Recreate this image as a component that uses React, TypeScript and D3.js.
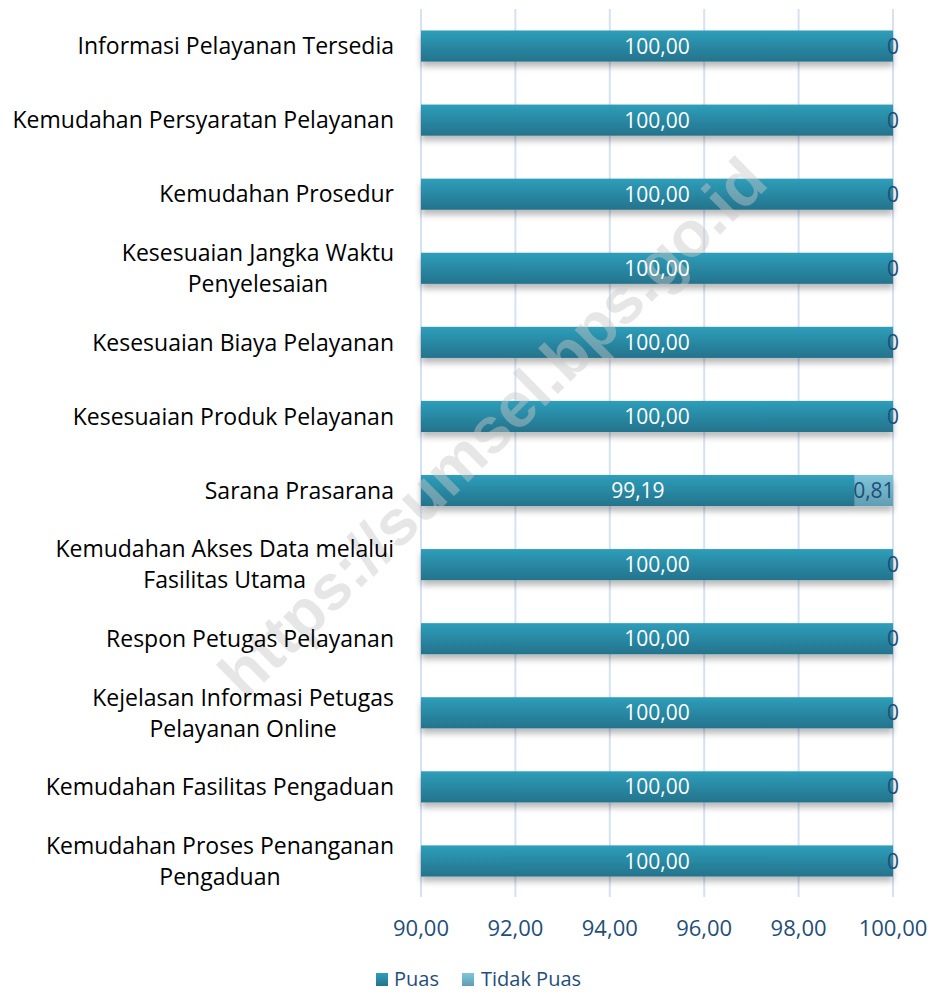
import React from "react";
import * as d3 from "d3";

const categories: string[][] = [
  ["Informasi Pelayanan Tersedia"],
  ["Kemudahan Persyaratan Pelayanan"],
  ["Kemudahan Prosedur"],
  ["Kesesuaian Jangka Waktu", "Penyelesaian"],
  ["Kesesuaian Biaya Pelayanan"],
  ["Kesesuaian Produk Pelayanan"],
  ["Sarana Prasarana"],
  ["Kemudahan Akses Data melalui", "Fasilitas Utama"],
  ["Respon Petugas Pelayanan"],
  ["Kejelasan Informasi Petugas", "Pelayanan Online"],
  ["Kemudahan Fasilitas Pengaduan"],
  ["Kemudahan Proses Penanganan", "Pengaduan"],
];
const puas: number[] = [100, 100, 100, 100, 100, 100, 99.19, 100, 100, 100, 100, 100];
const tidakPuas: number[] = [0, 0, 0, 0, 0, 0, 0.81, 0, 0, 0, 0, 0];
const xTicks: number[] = [90, 92, 94, 96, 98, 100];
const seriesNames: string[] = ["Puas", "Tidak Puas"];

const W = 929;
const H = 992;
const FONT = "'Open Sans', Lato, sans-serif";

const fmt2 = (v: number) => v.toFixed(2).replace(".", ",");
const fmtTp = (v: number) => (v === 0 ? "0" : fmt2(v));

export default function App() {
  const x = d3.scaleLinear().domain([90, 100]).range([421, 893]);
  const y = d3
    .scaleBand<number>()
    .domain(d3.range(categories.length))
    .range([9, 898])
    .paddingInner(0.58)
    .paddingOuter(0.29);
  const bh = y.bandwidth();
  const navy = "#1F4E79";

  return (
    <svg
      width={W}
      height={H}
      style={{ position: "absolute", left: 0, top: 0, background: "#fff" }}
    >
      <defs>
        <linearGradient id="gPuas" x1="0" y1="0" x2="0" y2="1">
          <stop offset="0" stopColor="#2E9EBA" />
          <stop offset="1" stopColor="#24738C" />
        </linearGradient>
        <linearGradient id="gTidak" x1="0" y1="0" x2="0" y2="1">
          <stop offset="0" stopColor="#80C6DB" />
          <stop offset="1" stopColor="#5F9DB2" />
        </linearGradient>
        <filter id="shadow" x="-5%" y="-30%" width="110%" height="180%">
          <feDropShadow dx="0" dy="5" stdDeviation="3" floodColor="#000" floodOpacity="0.28" />
        </filter>
      </defs>

      {/* gridlines */}
      {xTicks.map((t) => (
        <line
          key={"g" + t}
          x1={x(t)}
          x2={x(t)}
          y1={9}
          y2={897}
          stroke="#D6E1F2"
          strokeWidth={2}
        />
      ))}

      {/* bars */}
      {categories.map((c, i) => {
        const y0 = y(i)!;
        const xp = x(90);
        const xe = x(puas[i]);
        const xt = x(puas[i] + tidakPuas[i]);
        return (
          <g key={"b" + i} filter="url(#shadow)">
            <rect x={xp} y={y0} width={xe - xp} height={bh} fill="url(#gPuas)" />
            {tidakPuas[i] > 0 && (
              <rect x={xe} y={y0} width={xt - xe} height={bh} fill="url(#gTidak)" />
            )}
          </g>
        );
      })}

      {/* watermark */}
      <text
        x={496}
        y={431}
        transform="rotate(-44.5 496 431)"
        textAnchor="middle"
        dominantBaseline="middle"
        fontFamily="'Liberation Sans', Arial, sans-serif"
        fontWeight="bold"
        fontSize={64}
        fill="#C8C8C8"
        fillOpacity={0.45}
      >
        https://sumsel.bps.go.id
      </text>

      {/* labels on bars */}
      {categories.map((c, i) => {
        const yc = y(i)! + bh / 2;
        const xp = x(90);
        const xe = x(puas[i]);
        const xt = x(puas[i] + tidakPuas[i]);
        return (
          <g key={"l" + i} fontFamily={FONT} fontSize={21}>
            <text x={(xp + xe) / 2} y={yc} dy="0.36em" textAnchor="middle" fill="#fff">
              {fmt2(puas[i])}
            </text>
            <text x={(xe + xt) / 2} y={yc} dy="0.36em" textAnchor="middle" fill={navy}>
              {fmtTp(tidakPuas[i])}
            </text>
          </g>
        );
      })}

      {/* category labels */}
      {categories.map((c, i) => {
        const yc = y(i)! + bh / 2;
        const lh = 31;
        const n = c.length;
        return (
          <g key={"c" + i} fontFamily={FONT} fontSize={23} fill="#000">
            {n === 1 ? (
              <text x={394} y={yc} dy="0.36em" textAnchor="end">
                {c[0]}
              </text>
            ) : (
              <CenteredBlock lines={c} right={394} yc={yc} lh={lh} />
            )}
          </g>
        );
      })}

      {/* x axis tick labels */}
      {xTicks.map((t) => (
        <text
          key={"t" + t}
          x={x(t)}
          y={928}
          dy="0.36em"
          textAnchor="middle"
          fontFamily={FONT}
          fontSize={22}
          fill={navy}
        >
          {fmt2(t)}
        </text>
      ))}

      {/* legend */}
      <g fontFamily={FONT} fontSize={20} fill={navy}>
        <rect x={376} y={973} width={12} height={13} fill="url(#gPuas)" />
        <text x={394} y={979} dy="0.36em">{seriesNames[0]}</text>
        <rect x={462} y={973} width={12} height={13} fill="url(#gTidak)" />
        <text x={481} y={979} dy="0.36em">{seriesNames[1]}</text>
      </g>
    </svg>
  );
}

function CenteredBlock({ lines, right, yc, lh }: { lines: string[]; right: number; yc: number; lh: number }) {
  const ref = React.useRef<SVGGElement>(null);
  const [cx, setCx] = React.useState<number | null>(null);
  React.useLayoutEffect(() => {
    if (!ref.current) return;
    const texts = Array.from(ref.current.querySelectorAll("text")) as SVGTextElement[];
    const maxW = d3.max(texts, (t) => t.getComputedTextLength()) || 0;
    setCx(right - maxW / 2);
  }, [lines, right]);
  const n = lines.length;
  return (
    <g ref={ref}>
      {lines.map((l, k) => (
        <text
          key={k}
          x={cx ?? right}
          y={yc + (k - (n - 1) / 2) * lh}
          dy="0.36em"
          textAnchor={cx === null ? "end" : "middle"}
        >
          {l}
        </text>
      ))}
    </g>
  );
}
